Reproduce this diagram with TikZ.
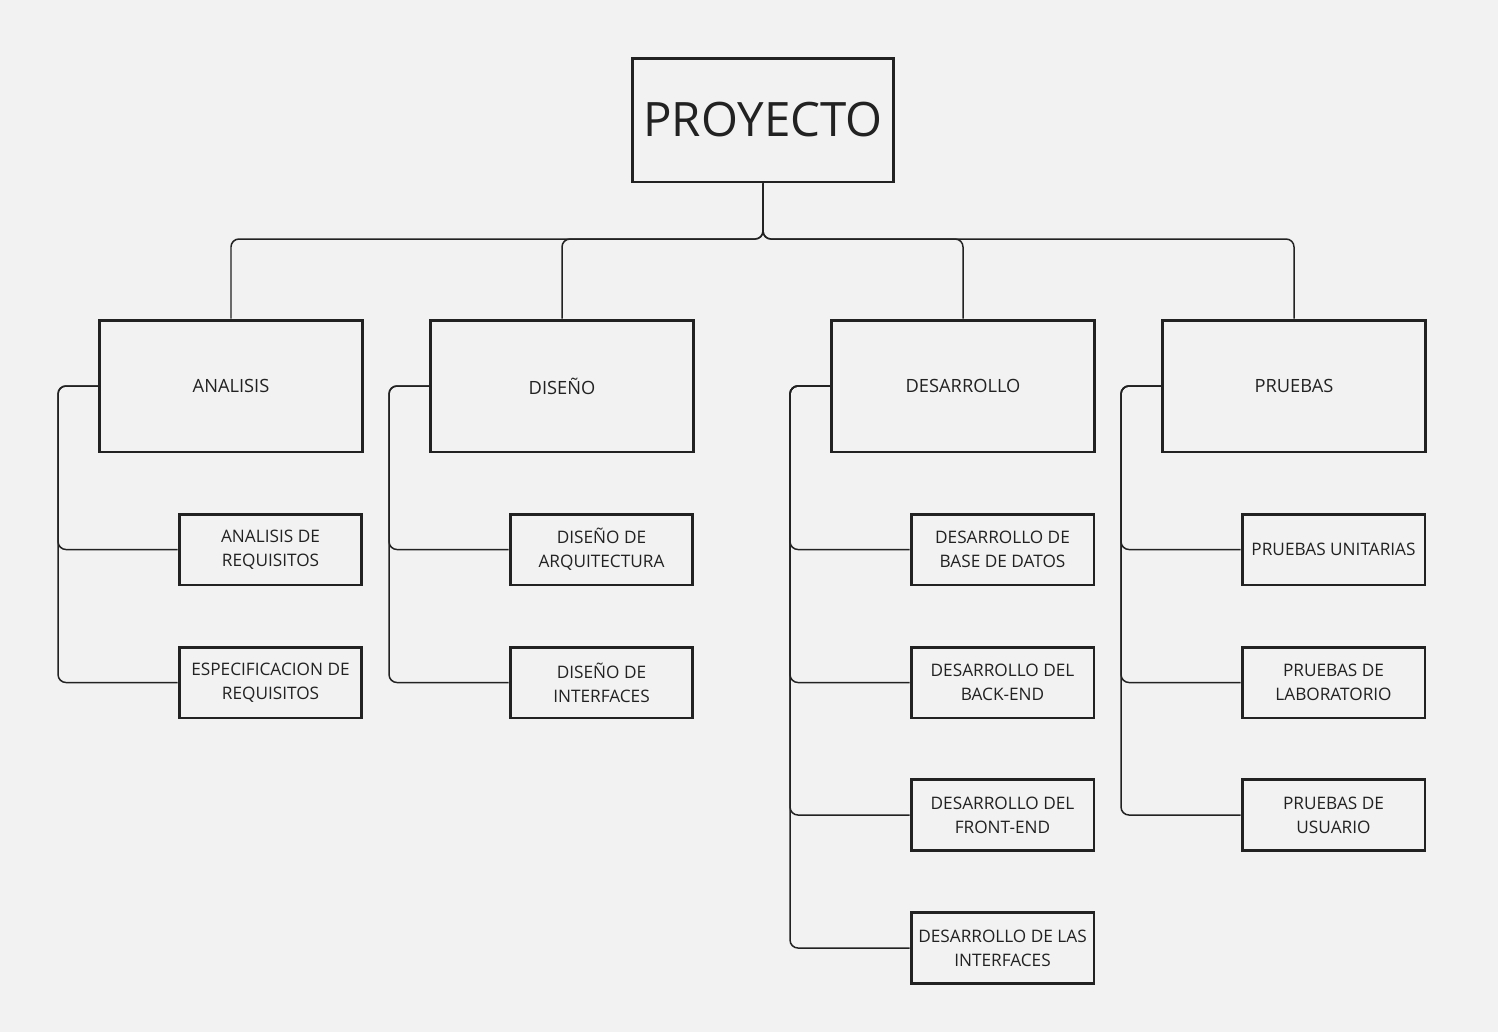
\documentclass[tikz,border=0pt]{standalone}
\usepackage{fontspec}
\setmainfont{Open Sans}
\definecolor{bgcol}{HTML}{F2F2F2}
\definecolor{inkcol}{HTML}{222222}
\begin{document}
\begin{tikzpicture}[x=0.02cm,y=-0.02cm,
  topbox/.style={draw=inkcol, line width=1.7pt, text=inkcol, minimum width=5.24cm, minimum height=2.48cm, font=\fontsize{27}{31}\selectfont},
  phase/.style={draw=inkcol, line width=1.7pt, text=inkcol, minimum width=5.26cm, minimum height=2.64cm, font=\fontsize{10.4}{13.6}\selectfont},
  task/.style={draw=inkcol, line width=1.7pt, text=inkcol, minimum width=3.66cm, minimum height=1.42cm, align=center, inner sep=1pt, font=\fontsize{9.8}{13.6}\selectfont},
  conn/.style={draw=inkcol, line width=0.85pt, rounded corners=4.5pt}]
\fill[bgcol] (0,0) rectangle (1498,1032);
\useasboundingbox (0,0) rectangle (1498,1032);
\node[topbox] (proy) at (763,120){PROYECTO};
\node[phase] (ana) at (231,386){ANALISIS};
\node[phase] (dis) at (562,386){DISEÑO};
\node[phase] (des) at (963,386){DESARROLLO};
\node[phase] (pru) at (1294,386){PRUEBAS};
\coordinate (bus) at (763,239);
\draw[conn](proy.south) -- (bus) -| (ana.north);
\draw[conn](proy.south) -- (bus) -| (dis.north);
\draw[conn](proy.south) -- (bus) -| (des.north);
\draw[conn](proy.south) -- (bus) -| (pru.north);
\node[task] (ana1) at (270.5,549.5){ANALISIS DE\\REQUISITOS};
\node[task] (ana2) at (270.5,682.5){ESPECIFICACION DE\\REQUISITOS};
\draw[conn](ana.west) -- ++(-40,0) |- (ana1.west);
\draw[conn](ana.west) -- ++(-40,0) |- (ana2.west);
\node[task] (dis1) at (601.5,549.5){DISEÑO DE\\ARQUITECTURA};
\node[task] (dis2) at (601.5,682.5){DISEÑO DE\\INTERFACES};
\draw[conn](dis.west) -- ++(-40,0) |- (dis1.west);
\draw[conn](dis.west) -- ++(-40,0) |- (dis2.west);
\node[task] (des1) at (1002.5,549.5){DESARROLLO DE\\BASE DE DATOS};
\node[task] (des2) at (1002.5,682.5){DESARROLLO DEL\\BACK-END};
\node[task] (des3) at (1002.5,815){DESARROLLO DEL\\FRONT-END};
\node[task] (des4) at (1002.5,948){DESARROLLO DE LAS\\INTERFACES};
\draw[conn](des.west) -- ++(-40,0) |- (des1.west);
\draw[conn](des.west) -- ++(-40,0) |- (des2.west);
\draw[conn](des.west) -- ++(-40,0) |- (des3.west);
\draw[conn](des.west) -- ++(-40,0) |- (des4.west);
\node[task] (pru1) at (1333.5,549.5){PRUEBAS UNITARIAS};
\node[task] (pru2) at (1333.5,682.5){PRUEBAS DE\\LABORATORIO};
\node[task] (pru3) at (1333.5,815){PRUEBAS DE\\USUARIO};
\draw[conn](pru.west) -- ++(-40,0) |- (pru1.west);
\draw[conn](pru.west) -- ++(-40,0) |- (pru2.west);
\draw[conn](pru.west) -- ++(-40,0) |- (pru3.west);
\end{tikzpicture}
\end{document}
